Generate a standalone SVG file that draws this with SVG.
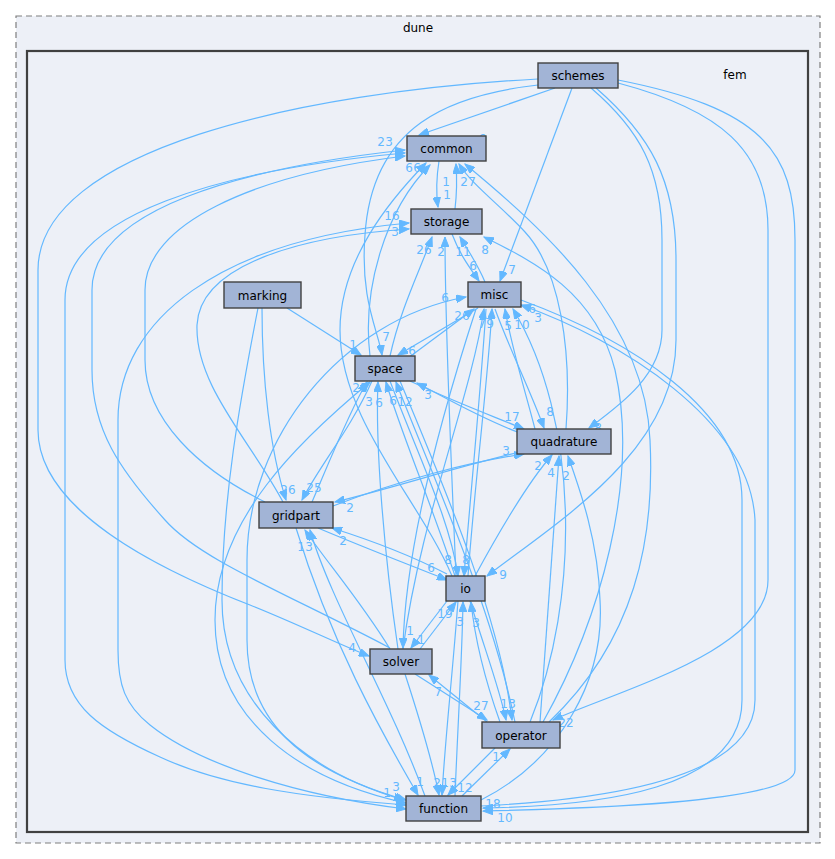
<svg xmlns="http://www.w3.org/2000/svg" width="835" height="859" viewBox="0 0 835 859">
<style>
.n rect{fill:#a2b4d6;stroke:#404040;stroke-width:1.4}
.n text{font-family:"DejaVu Sans",sans-serif;font-size:12px;fill:#000;text-anchor:middle}
#edges path{fill:none;stroke:#63b8ff;stroke-width:1.2}
#edges path.e{marker-end:url(#ah)}
#edges path.b{marker-end:url(#ah);marker-start:url(#ah)}
.l{font-family:"DejaVu Sans",sans-serif;font-size:12px;fill:#63b8ff;text-anchor:middle}
.t{font-family:"DejaVu Sans",sans-serif;font-size:12px;fill:#000;text-anchor:middle}
</style>
<defs>
<marker id="ah" markerWidth="11" markerHeight="8" refX="10" refY="4" orient="auto-start-reverse" markerUnits="userSpaceOnUse">
<path d="M0,0 L10,4 L0,8 z" fill="#63b8ff" stroke="#63b8ff" stroke-width="1"/>
</marker>
</defs>
<rect x="0" y="0" width="835" height="859" fill="#ffffff"/>
<g id="cluster-dune">
<rect x="16" y="16" width="804" height="827" fill="#edf0f7" stroke="#7f7f7f" stroke-width="1.2" stroke-dasharray="6,4"/>
<text class="t" x="418" y="32">dune</text>
</g>
<g id="cluster-fem">
<rect x="27" y="51" width="781" height="781" fill="#edf0f7" stroke="#404040" stroke-width="2.2"/>
<text class="t" x="735" y="79">fem</text>
</g>
<g id="edges">
<path class="e" d="M555,88 L419,135"/>
<path class="e" d="M538,85 C450,95 372,125 365,235 C360,300 378,330 382,355"/>
<path class="e" d="M538,79 C300,92 38,150 38,270 L38,430 C38,510 160,570 250,605 C300,625 340,645 369,656"/>
<path class="e" d="M572,88 L500,281"/>
<path class="e" d="M591,88 C640,130 662,170 662,240 L662,330 C662,375 620,405 589,428"/>
<path class="e" d="M596,88 C650,135 676,180 676,260 L676,340 C676,450 560,520 487,576"/>
<path class="e" d="M618,83 C720,110 768,150 768,230 L768,580 C768,650 620,690 553,720"/>
<path class="e" d="M618,80 C760,108 795,150 795,240 L795,770 C795,800 620,808 483,811"/>
<path class="b" d="M406,805 C300,797 220,785 160,757 C100,730 65,705 65,660 L65,300 C65,215 220,170 405,153"/>
<path class="e" d="M390,648 C290,595 200,560 165,520 C120,470 92,430 92,370 L92,290 C92,210 240,168 405,150"/>
<path class="e" d="M265,502 C200,470 145,420 145,360 L145,290 C145,225 250,175 405,156"/>
<path class="e" d="M439,161 C436,180 436,193 438,207"/>
<path class="e" d="M455,209 C457,192 457,178 456,164"/>
<path class="b" d="M406,809 C300,796 200,765 150,725 C125,705 118,685 118,650 L118,420 C118,320 220,240 409,223"/>
<path class="e" d="M283,502 C250,440 195,385 197,325 C200,265 300,236 409,229"/>
<path class="e" d="M390,356 C400,310 420,270 432,237"/>
<path class="e" d="M456,576 C452,480 445,330 445,237"/>
<path class="e" d="M485,282 C478,265 468,250 460,237"/>
<path class="e" d="M452,234 C460,255 470,268 479,281"/>
<path class="e" d="M543,722 C600,620 640,480 615,370 C595,290 530,260 484,237"/>
<path class="e" d="M566,429 C572,350 560,270 525,232 C500,205 472,185 459,164"/>
<path class="e" d="M549,722 C635,640 655,540 650,440 C645,320 545,230 465,164"/>
<path class="e" d="M452,576 C420,500 340,420 340,330 C340,260 390,200 426,163"/>
<path class="e" d="M370,356 C362,290 385,210 430,165"/>
<path class="e" d="M478,308 L398,355"/>
<path class="e" d="M404,361 L474,309"/>
<path class="b" d="M406,800 C300,770 247,720 247,640 L247,560 C247,440 340,320 466,297"/>
<path class="e" d="M287,308 L361,355"/>
<path class="e" d="M262,308 C262,380 270,450 286,500"/>
<path class="e" d="M258,308 C240,400 222,500 222,600 C222,700 300,770 404,800"/>
<path class="e" d="M372,381 C350,430 320,465 302,500"/>
<path class="e" d="M312,502 C330,460 350,410 367,382"/>
<path class="b" d="M406,803 C300,780 215,720 215,620 C215,520 300,440 370,382"/>
<path class="e" d="M398,649 C385,560 375,450 378,382"/>
<path class="e" d="M455,576 C430,500 400,430 386,382"/>
<path class="e" d="M515,722 C490,600 430,470 396,382"/>
<path class="e" d="M410,381 C450,400 490,415 524,429"/>
<path class="e" d="M520,433 C480,418 450,400 417,383"/>
<path class="e" d="M495,309 C510,350 530,390 544,428"/>
<path class="e" d="M333,506 C400,480 470,462 524,454"/>
<path class="e" d="M520,452 C460,466 400,486 335,502"/>
<path class="e" d="M475,576 C500,530 530,480 552,455"/>
<path class="e" d="M540,722 C548,620 555,520 559,456"/>
<path class="e" d="M481,800 C560,760 605,680 600,600 C598,540 580,490 568,456"/>
<path class="e" d="M535,429 C525,390 512,350 505,309"/>
<path class="e" d="M468,576 C475,480 488,380 492,309"/>
<path class="e" d="M403,649 C420,520 470,400 484,309"/>
<path class="e" d="M530,722 C580,600 580,420 513,309"/>
<path class="e" d="M481,806 C600,800 755,780 755,700 L755,520 C750,420 620,340 521,305"/>
<path class="e" d="M521,300 C630,340 742,410 742,500 L742,700 C742,790 600,806 483,808"/>
<path class="e" d="M318,528 C370,550 410,565 447,580"/>
<path class="e" d="M447,574 C410,555 370,540 332,528"/>
<path class="e" d="M390,381 C420,460 450,520 458,576"/>
<path class="e" d="M486,309 C480,400 470,500 464,576"/>
<path class="e" d="M420,649 L456,602"/>
<path class="e" d="M447,601 L411,648"/>
<path class="e" d="M476,309 C440,420 405,550 403,648"/>
<path class="e" d="M455,796 C458,720 462,660 463,602"/>
<path class="e" d="M500,722 C485,680 475,640 471,602"/>
<path class="e" d="M415,674 L487,720"/>
<path class="e" d="M487,722 L429,675"/>
<path class="e" d="M470,601 C485,650 500,690 506,720"/>
<path class="e" d="M400,381 C450,500 500,620 512,720"/>
<path class="e" d="M462,796 L510,749"/>
<path class="e" d="M495,748 L448,795"/>
<path class="e" d="M296,528 C330,640 380,730 418,795"/>
<path class="e" d="M405,674 C420,720 432,760 439,795"/>
<path class="e" d="M458,601 C452,680 445,740 442,795"/>
<path class="e" d="M390,649 C360,600 325,560 305,530"/>
<path class="e" d="M425,796 C390,700 330,600 310,530"/>
</g>
<g id="labels">
<text class="l" x="483" y="143">9</text>
<text class="l" x="386" y="341">7</text>
<text class="l" x="352" y="652">4</text>
<text class="l" x="512" y="274">7</text>
<text class="l" x="598" y="432">8</text>
<text class="l" x="503" y="579">9</text>
<text class="l" x="566" y="727">22</text>
<text class="l" x="505" y="822">10</text>
<text class="l" x="493" y="808">18</text>
<text class="l" x="381" y="146">2</text>
<text class="l" x="389" y="146">3</text>
<text class="l" x="387" y="797">1</text>
<text class="l" x="447" y="199">1</text>
<text class="l" x="446" y="186">1</text>
<text class="l" x="392" y="220">16</text>
<text class="l" x="395" y="236">3</text>
<text class="l" x="396" y="791">3</text>
<text class="l" x="424" y="254">26</text>
<text class="l" x="441" y="256">2</text>
<text class="l" x="463" y="256">11</text>
<text class="l" x="485" y="254">8</text>
<text class="l" x="473" y="270">6</text>
<text class="l" x="464" y="186">2</text>
<text class="l" x="472" y="186">7</text>
<text class="l" x="409" y="172">6</text>
<text class="l" x="417" y="172">6</text>
<text class="l" x="412" y="355">6</text>
<text class="l" x="462" y="320">26</text>
<text class="l" x="445" y="302">6</text>
<text class="l" x="353" y="349">1</text>
<text class="l" x="288" y="494">26</text>
<text class="l" x="314" y="492">25</text>
<text class="l" x="360" y="392">23</text>
<text class="l" x="369" y="406">3</text>
<text class="l" x="379" y="407">6</text>
<text class="l" x="393" y="405">6</text>
<text class="l" x="405" y="406">12</text>
<text class="l" x="512" y="421">17</text>
<text class="l" x="428" y="399">3</text>
<text class="l" x="550" y="416">8</text>
<text class="l" x="506" y="455">3</text>
<text class="l" x="350" y="512">2</text>
<text class="l" x="538" y="470">2</text>
<text class="l" x="551" y="477">4</text>
<text class="l" x="566" y="480">2</text>
<text class="l" x="508" y="330">5</text>
<text class="l" x="490" y="328">9</text>
<text class="l" x="482" y="328">7</text>
<text class="l" x="522" y="329">10</text>
<text class="l" x="538" y="322">3</text>
<text class="l" x="532" y="313">6</text>
<text class="l" x="431" y="572">6</text>
<text class="l" x="343" y="545">2</text>
<text class="l" x="448" y="564">8</text>
<text class="l" x="466" y="564">8</text>
<text class="l" x="445" y="618">19</text>
<text class="l" x="421" y="644">1</text>
<text class="l" x="410" y="635">1</text>
<text class="l" x="460" y="626">3</text>
<text class="l" x="476" y="627">3</text>
<text class="l" x="481" y="710">27</text>
<text class="l" x="438" y="696">7</text>
<text class="l" x="504" y="708">1</text>
<text class="l" x="512" y="708">3</text>
<text class="l" x="496" y="761">1</text>
<text class="l" x="465" y="792">12</text>
<text class="l" x="420" y="786">1</text>
<text class="l" x="437" y="787">2</text>
<text class="l" x="445" y="787">1</text>
<text class="l" x="453" y="787">3</text>
<text class="l" x="301" y="551">1</text>
<text class="l" x="309" y="551">3</text>
</g>
<g id="node-schemes" class="n"><rect x="538" y="63" width="80" height="25"/><text x="578" y="80">schemes</text></g>
<g id="node-common" class="n"><rect x="407" y="136" width="79" height="25"/><text x="446.5" y="153">common</text></g>
<g id="node-storage" class="n"><rect x="411" y="209" width="71" height="25"/><text x="446.5" y="226">storage</text></g>
<g id="node-marking" class="n"><rect x="224" y="282" width="77" height="26"/><text x="262.5" y="299.5">marking</text></g>
<g id="node-misc" class="n"><rect x="468" y="282" width="53" height="25"/><text x="494.5" y="299">misc</text></g>
<g id="node-space" class="n"><rect x="355" y="356" width="60" height="25"/><text x="385" y="373">space</text></g>
<g id="node-quadrature" class="n"><rect x="517" y="429" width="94" height="25"/><text x="564" y="446">quadrature</text></g>
<g id="node-gridpart" class="n"><rect x="259" y="502" width="74" height="26"/><text x="296" y="519.5">gridpart</text></g>
<g id="node-io" class="n"><rect x="446" y="576" width="39" height="25"/><text x="465.5" y="593">io</text></g>
<g id="node-solver" class="n"><rect x="370" y="649" width="62" height="25"/><text x="401" y="666">solver</text></g>
<g id="node-operator" class="n"><rect x="482" y="722" width="78" height="26"/><text x="521" y="739.5">operator</text></g>
<g id="node-function" class="n"><rect x="406" y="796" width="75" height="25"/><text x="443.5" y="813">function</text></g>
</svg>
